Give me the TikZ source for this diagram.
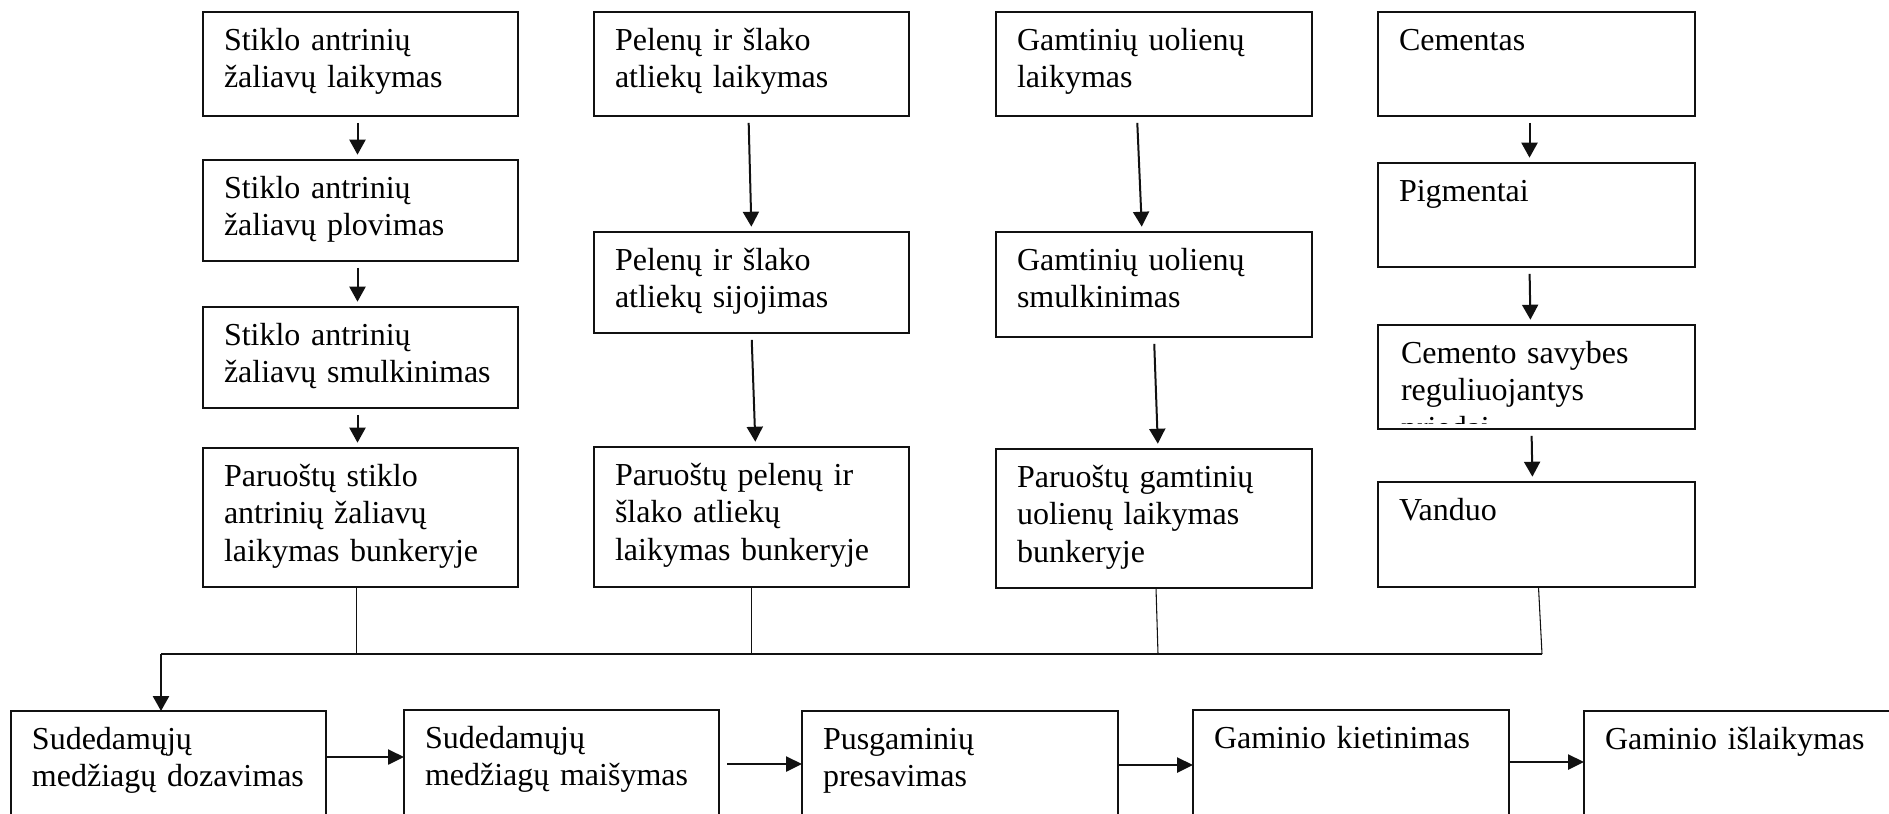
\documentclass[tikz,border=0pt]{standalone}
\usepackage{fontspec}
\setmainfont{Liberation Serif}
\usetikzlibrary{arrows.meta}
\definecolor{flowInk}{HTML}{111111}
\newcommand{\flowpx}{0.375pt}
\tikzset{
  flow diagram/.style={
    x=\flowpx, y=-\flowpx,
    every node/.style={inner sep=0pt, outer sep=0pt}
  },
  flow box/.style={draw=flowInk, line width=0.5pt, anchor=north west},
  flow text/.style={anchor=base west, align=left, text width=112pt,
    font=\fontsize{12}{14.06}\selectfont},
  flow arrow/.style={draw=flowInk, line width=0.75pt,
    -{Triangle[length=5.6pt,width=6pt]}, shorten <=2.6pt, shorten >=2pt},
  flow push/.style={draw=flowInk, line width=1pt,
    -{Triangle[length=6pt,width=5.6pt]}},
  flow link/.style={draw=flowInk, line width=0.4pt}
}
\newcommand{\FlowBox}[6]{%
  \node[flow box, minimum width=#4*\flowpx, minimum height=#5*\flowpx] (#1) at (#2,#3) {};
  \node[flow text] (#1-text) at ([xshift=21*\flowpx,yshift=-38*\flowpx]#1.north west) {#6};
}

\begin{document}
\begin{tikzpicture}[flow diagram]
    \useasboundingbox (0,0) rectangle (1889,813);
    \clip (0,0) rectangle (1889,813);
    \FlowBox{a1}{203}{12}{315}{104}{Stiklo antrinių\\žaliavų laikymas}
    \FlowBox{a2}{203}{160}{315}{101}{Stiklo antrinių\\žaliavų plovimas}
    \FlowBox{a3}{203}{307}{315}{101}{Stiklo antrinių\\žaliavų smulkinimas}
    \FlowBox{a4}{203}{448}{315}{139}{Paruoštų stiklo\\antrinių žaliavų\\laikymas bunkeryje}
    \FlowBox{b1}{594}{12}{315}{104}{Pelenų ir šlako\\atliekų laikymas}
    \FlowBox{b2}{594}{232}{315}{101}{Pelenų ir šlako\\atliekų sijojimas}
    \FlowBox{b3}{594}{447}{315}{140}{Paruoštų pelenų ir\\šlako atliekų\\laikymas bunkeryje}
    \FlowBox{c1}{996}{12}{316}{104}{Gamtinių uolienų\\laikymas}
    \FlowBox{c2}{996}{232}{316}{105}{Gamtinių uolienų\\smulkinimas}
    \FlowBox{c3}{996}{449}{316}{139}{Paruoštų gamtinių\\uolienų laikymas\\bunkeryje}
    \FlowBox{d1}{1378}{12}{317}{104}{Cementas}
    \FlowBox{d2}{1378}{163}{317}{104}{Pigmentai}
    \FlowBox{d3}{1378}{325}{317}{104}{}
    \begin{scope}
      \clip (d3.north west) rectangle ([yshift=6*\flowpx]d3.south east);
      \node[flow text] (d3-clip) at ([xshift=23*\flowpx,yshift=-38*\flowpx]d3.north west) {Cemento savybes\\reguliuojantys\\priedai};
    \end{scope}
    \FlowBox{d4}{1378}{482}{317}{105}{Vanduo}
    \FlowBox{e1}{11}{711}{315}{120}{Sudedamųjų\\medžiagų dozavimas}
    \FlowBox{e2}{404}{710}{315}{121}{Sudedamųjų\\medžiagų maišymas}
    \FlowBox{e3}{802}{711}{316}{120}{Pusgaminių\\presavimas}
    \FlowBox{e4}{1193}{710}{316}{121}{Gaminio kietinimas}
    \FlowBox{e5}{1584}{711}{316}{120}{Gaminio išlaikymas}

    \draw[flow arrow] ([xshift=-3*\flowpx]a1.south) -- ([xshift=-3*\flowpx]a2.north);
    \draw[flow arrow] ([xshift=-3*\flowpx]a2.south) -- ([xshift=-3*\flowpx]a3.north);
    \draw[flow arrow] ([xshift=-3*\flowpx]a3.south) -- ([xshift=-3*\flowpx]a4.north);
    \draw[flow arrow] ([xshift=-3*\flowpx]b1.south) -- (b2.north);
    \draw[flow arrow] (b2.south) -- ([xshift=4*\flowpx]b3.north);
    \draw[flow arrow] ([xshift=-17*\flowpx]c1.south) -- ([xshift=-12*\flowpx]c2.north);
    \draw[flow arrow] (c2.south) -- ([xshift=4*\flowpx]c3.north);
    \draw[flow arrow] ([xshift=-7*\flowpx]d1.south) -- ([xshift=-7*\flowpx]d2.north);
    \draw[flow arrow] ([xshift=-7*\flowpx]d2.south) -- ([xshift=-6*\flowpx]d3.north);
    \draw[flow arrow] ([xshift=-5*\flowpx]d3.south) -- ([xshift=-4*\flowpx]d4.north);

    \coordinate (bus-l) at (161,654);
    \coordinate (bus-r) at (1542,654);
    \draw[flow link] ([xshift=-4*\flowpx]a4.south) -- ([xshift=-4*\flowpx]a4.south |- bus-l);
    \draw[flow link] (b3.south) -- (b3.south |- bus-l);
    \draw[flow link] ([xshift=2*\flowpx]c3.south) -- ([xshift=4*\flowpx]c3.south |- bus-l);
    \draw[flow link] ([xshift=2*\flowpx]d4.south) -- (bus-r);
    \draw[flow link, line width=0.5pt] (bus-r) -- (bus-l);
    \draw[flow arrow, line width=0.9pt, shorten <=0pt, shorten >=0pt] (bus-l) -- (bus-l |- e1.north);

    \draw[flow push] ([yshift=-46*\flowpx]e1.north east) -- ([yshift=-47*\flowpx]e2.north west);
    \draw[flow push] ([xshift=8*\flowpx,yshift=-54*\flowpx]e2.north east) -- ([yshift=-53*\flowpx]e3.north west);
    \draw[flow push] ([yshift=-54*\flowpx]e3.north east) -- ([yshift=-55*\flowpx]e4.north west);
    \draw[flow push] ([yshift=-52*\flowpx]e4.north east) -- ([yshift=-51*\flowpx]e5.north west);
\end{tikzpicture}
\end{document}
